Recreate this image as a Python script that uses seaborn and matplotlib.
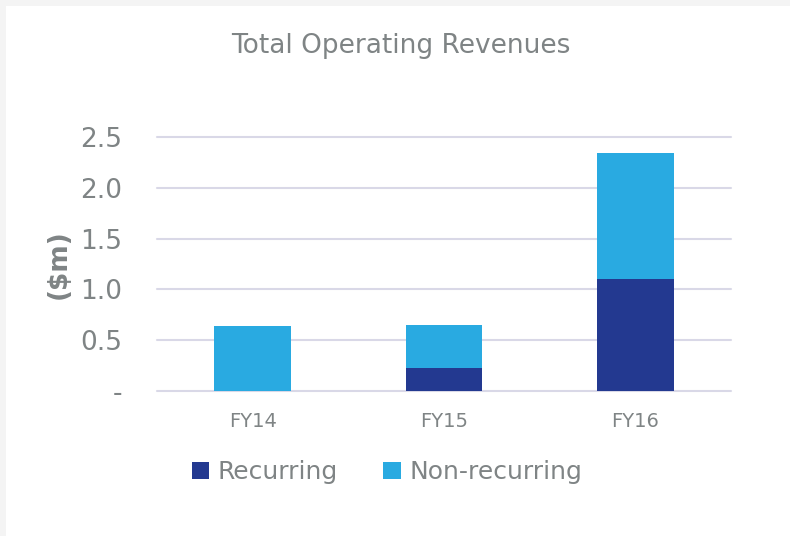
import pandas as pd
import seaborn as sns
import matplotlib.pyplot as plt
from matplotlib.patches import Rectangle

# Chart data ($m)
years = ['FY14', 'FY15', 'FY16']
recurring = [0.0, 0.23, 1.10]
non_recurring = [0.64, 0.42, 1.24]
yticks = [0, 0.5, 1.0, 1.5, 2.0, 2.5]
ytick_labels = ['-', '0.5', '1.0', '1.5', '2.0', '2.5']

dark_blue = '#233990'
light_blue = '#29aae1'
text_grey = '#7f8485'
grid_col = '#d9d8e7'

df = pd.DataFrame({'Year': years, 'Recurring': recurring, 'Non-recurring': non_recurring})
df['Total'] = df['Recurring'] + df['Non-recurring']

sns.set_style('white')
plt.rcParams['font.family'] = ['DejaVu Sans']

fig = plt.figure(figsize=(7.9, 5.36), dpi=100, facecolor='#f4f4f4')
fig.patches.append(Rectangle((6 / 790, 0), 1, 1 - 6 / 536, transform=fig.transFigure,
                             facecolor='white', edgecolor='none', zorder=-5))
ax = fig.add_axes([157 / 790, 1 - 391 / 536, (731 - 157) / 790, (391 - 137) / 536])
ax.set_facecolor('none')

# Stacked bars: total first, recurring drawn over the bottom part
sns.barplot(data=df, x='Year', y='Total', color=light_blue, width=0.4, ax=ax,
            saturation=1, label='Non-recurring', linewidth=0, zorder=3)
sns.barplot(data=df, x='Year', y='Recurring', color=dark_blue, width=0.4, ax=ax,
            saturation=1, label='Recurring', linewidth=0, zorder=3)
handles, labels = ax.get_legend_handles_labels()
ax.legend_.remove()

ax.set_ylim(0, 2.5)
ax.set_yticks(yticks)
ax.set_yticklabels(ytick_labels)
ax.yaxis.grid(True, color=grid_col, linewidth=1.5, zorder=0)
for gl in ax.get_ygridlines():
    gl.set_clip_on(False)
ax.set_axisbelow(True)
for s in ax.spines.values():
    s.set_visible(False)
ax.tick_params(axis='y', labelsize=19, colors=text_grey, length=0, pad=25)
ax.tick_params(axis='x', labelsize=14, colors=text_grey, length=0, pad=15)
ax.set_xlabel('')
ax.set_ylabel('($m)', fontsize=19, fontweight='bold', color=text_grey, labelpad=6)

fig.text(401 / 790, 1 - 46 / 536, 'Total Operating Revenues', ha='center', va='center',
         fontsize=19, color=text_grey)

order = [labels.index('Recurring'), labels.index('Non-recurring')]
fig.legend([handles[i] for i in order], [labels[i] for i in order],
           loc='center', bbox_to_anchor=(387 / 790, 1 - 472 / 536), ncol=2,
           frameon=False, fontsize=18, labelcolor=text_grey, handlelength=0.7,
           handleheight=0.7, handletextpad=0.35, columnspacing=1.8)

fig.savefig('out.png', dpi=100, facecolor=fig.get_facecolor())
